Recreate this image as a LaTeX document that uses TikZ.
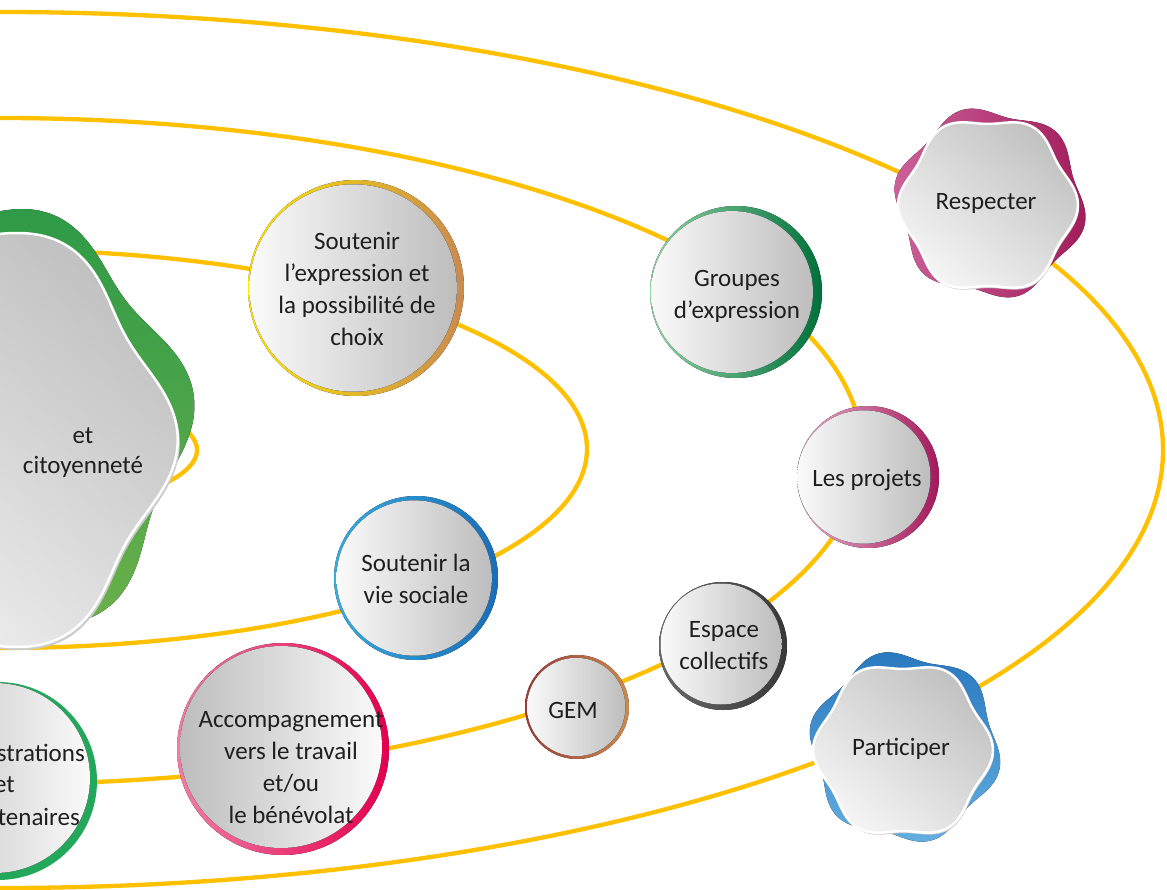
\documentclass[tikz,border=0pt]{standalone}
\usepackage{fontspec}
\setmainfont{Carlito}
\definecolor{ringc}{HTML}{FFC000}
\definecolor{txt}{HTML}{1F1F1F}
\definecolor{faceL}{HTML}{FAFAFA}
\definecolor{faceR}{HTML}{BDBDBD}
\definecolor{frontD}{HTML}{C2C2C2}
\definecolor{frontL}{HTML}{F4F4F4}
\definecolor{yel}{HTML}{FFE500}
\definecolor{tan}{HTML}{C98A50}
\definecolor{grnL}{HTML}{8FD6A4}
\definecolor{grnD}{HTML}{00703A}
\definecolor{pinkL}{HTML}{EAB0CB}
\definecolor{mag}{HTML}{A3195B}
\definecolor{blueL}{HTML}{36ABE2}
\definecolor{blueD}{HTML}{1A6DB5}
\definecolor{greyL}{HTML}{6A6A6A}
\definecolor{greyD}{HTML}{383838}
\definecolor{gemL}{HTML}{9E3A33}
\definecolor{gemR}{HTML}{CC8A4E}
\definecolor{accL}{HTML}{F07DA5}
\definecolor{accR}{HTML}{E4004E}
\definecolor{admG}{HTML}{23A75A}
\definecolor{magL}{HTML}{CB6199}
\definecolor{magD}{HTML}{A21D5C}
\definecolor{bluBkD}{HTML}{2A79BF}
\definecolor{bluBkL}{HTML}{63AEE0}
\definecolor{grnBkD}{HTML}{2F9A47}
\definecolor{grnBkL}{HTML}{6DB14B}
% six-lobed wavy outline: centre x, centre y, base radius, wave depth, lobe phase
\newcommand\wavypath[5]{plot[smooth cycle, domain=0:357, samples=120]
  ({#1+#3*(1+#4*cos(6*(\x-#5)))*cos(\x)}, {#2+#3*(1+#4*cos(6*(\x-#5)))*sin(\x)})}
\begin{document}
\begin{tikzpicture}[x=1pt,y=-1pt,
  orbit/.style={draw=ringc, line width=4.3pt},
  lbl/.style={align=center, text=txt, font=\fontsize{25}{32}\selectfont, inner sep=0pt},
  face/.style={left color=faceL, right color=faceR},
  facerev/.style={left color=faceR, right color=faceL},
  front/.style={top color=frontD, bottom color=frontL, shading angle=-40, draw=white, line width=2.5pt},
  shadow/.style={fill=black!20},
]
\useasboundingbox (0,0) rectangle (1167,890);
\clip (0,0) rectangle (1167,890);
\fill[white] (0,0) rectangle (1167,890);

% orbits
\draw[orbit] (0,450) ellipse [x radius=1163, y radius=438];
\draw[orbit] (0,451) ellipse [x radius=862, y radius=333];
\draw[orbit] (0,449) ellipse [x radius=587, y radius=199];
\draw[orbit] (-100,450) ellipse [x radius=297, y radius=74];

% central theme shape
\fill[top color=grnBkD, bottom color=grnBkL] \wavypath{-33}{427}{216}{0.06}{-8};
\fill[shadow] \wavypath{-46}{443}{214}{0.055}{0};
\fill[front] \wavypath{-48}{440}{214}{0.055}{0};
\node[lbl, font=\fontsize{25}{30}\selectfont] (centre) at (83,453) {et\\citoyenneté};

% Respecter
\fill[left color=magL, right color=magD] \wavypath{990}{203}{92}{0.055}{13};
\fill[shadow] \wavypath{989}{207}{85.5}{0.052}{0};
\fill[front] \wavypath{988}{205}{85.5}{0.052}{0};
\node[lbl] (respecter) at (986,203) {Respecter};

% Participer
\fill[top color=bluBkD, bottom color=bluBkL] \wavypath{905}{747}{92}{0.055}{14};
\fill[shadow] \wavypath{904}{752}{85.5}{0.052}{0};
\fill[front] \wavypath{903}{750}{85.5}{0.052}{0};
\node[lbl] (participer) at (901,749) {Participer};

% Soutenir l'expression
\fill[left color=yel, right color=tan] (356,288) circle[radius=108];
\fill[face] (353.2,288) circle[radius=103.7];
\node[lbl] (expr) at (357,289) {Soutenir\\l’expression et\\la possibilité de\\choix};

% Groupes d'expression
\fill[left color=grnL, right color=grnD] (736,292) circle[radius=86];
\fill[face] (732,292) circle[radius=81];
\node[lbl] (groupes) at (737,296) {Groupes\\d’expression};

% Les projets
\fill[left color=pinkL, right color=mag] (868,477) circle[radius=71];
\fill[face] (863.8,477) circle[radius=66.7];
\node[lbl] (projets) at (867,480) {Les projets};

% Soutenir la vie sociale
\fill[left color=blueL, right color=blueD] (416,578) circle[radius=82];
\fill[face] (414.2,578) circle[radius=77.7];
\node[lbl] (vie) at (416,579) {Soutenir la\\vie sociale};

% Espace collectifs
\fill[left color=greyL, right color=greyD] (723,646) circle[radius=64];
\fill[face] (721,644) circle[radius=60.5];
\node[lbl] (espace) at (724,646) {Espace\\collectifs};

% GEM
\fill[left color=gemL, right color=gemR] (577,707) circle[radius=52];
\fill[face] (576.2,707) circle[radius=49.2];
\node[lbl] (gem) at (573,710) {GEM};

% Accompagnement
\fill[left color=accL, right color=accR] (283,749) circle[radius=106];
\fill[facerev] (281,747) circle[radius=101];
\node[lbl] (accomp) at (291,768) {Accompagnement\\vers le travail\\et/ou\\le bénévolat};

% Administrations et partenaires (cut by the left edge)
\fill[admG] (-2,781) circle[radius=99];
\fill[facerev] (-5,778) circle[radius=95];
\node[lbl, anchor=east] (adm1) at (85,753) {strations};
\node[lbl, anchor=east] (adm2) at (15,785) {et};
\node[lbl, anchor=east] (adm3) at (80,817) {tenaires};
\end{tikzpicture}
\end{document}
